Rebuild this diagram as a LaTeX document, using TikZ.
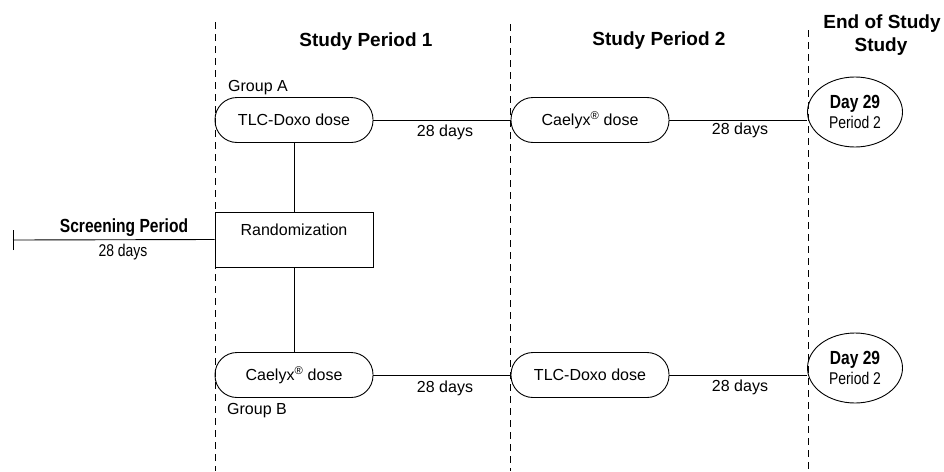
\documentclass[tikz,border=0pt]{standalone}
\usepackage{fontspec}
\setmainfont{Liberation Sans}
\newfontfamily\narrowfont[FakeStretch=0.82]{Liberation Sans}
\usetikzlibrary{shapes.geometric}
\begin{document}
\begin{tikzpicture}[x=1pt,y=-1pt,
  every node/.style={font=\fontsize{16}{19}\selectfont, inner sep=0pt},
  ln/.style={line width=0.9pt},
  dashline/.style={line width=0.9pt, dash pattern=on 7pt off 5pt},
  pill/.style={draw, line width=0.9pt, rounded corners=22pt, minimum width=158pt, minimum height=45pt},
  box/.style={draw, line width=0.9pt, minimum width=158pt, minimum height=55pt},
  endc/.style={draw, ellipse, line width=0.9pt, minimum width=95pt, minimum height=70pt, align=center},
  head/.style={font=\fontsize{19}{22}\selectfont\bfseries},
  lab/.style={font=\fontsize{16}{19}\selectfont}
]
\useasboundingbox (0,0) rectangle (944,471);

% dashed period separators
\coordinate (d1t) at (215,22); \coordinate (d1b) at (215,471);
\coordinate (d2t) at (510,24); \coordinate (d2b) at (510,471);
\coordinate (d3t) at (808,30); \coordinate (d3b) at (808,471);
\draw[dashline] (d1t) -- (d1b);
\draw[dashline] (d2t) -- (d2b);
\draw[dashline] (d3t) -- (d3b);

% headers
\node[head] (h1) at (366,42) {Study Period 1};
\node[head] (h2) at (659,41) {Study Period 2};
\node[head] (h3) at (882,24) {End of Study};
\node[head] (h4) at (881,47) {Study};

% top row
\node[pill] (a1) at (294,120) {TLC-Doxo dose};
\node[pill] (a2) at (590,120) {Caelyx\textsuperscript{®} dose};
\node[endc] (e1) at (855,112) {{\narrowfont\bfseries\fontsize{19}{22}\selectfont Day 29}\\[1pt]{\narrowfont\fontsize{17}{20}\selectfont Period 2}};
\node[lab] (ga) at (258,88) {Group A};
\node[lab] (t1) at (445,132) {28 days};
\node[lab] (t2) at (740,130) {28 days};
\draw[ln] (a1.east) -- (a2.west);
\draw[ln] (a2.east) -- (a2.east -| e1.west);

% randomization
\node[box] (r) at (294,239.5) {};
\node[lab] (rt) at (294,230) {Randomization};
\draw[ln] (a1.south) -- (r.north);

% screening
\coordinate (s0) at (13,240);
\draw[ln] (s0) -- (r.west);
\draw[ln] ([yshift=-10pt]s0) -- ([yshift=10pt]s0);
\node[font=\narrowfont\bfseries\fontsize{19}{22}\selectfont] (sp) at (124,228) {Screening Period};
\node[font=\narrowfont\fontsize{17}{20}\selectfont] (sd) at (123,252) {28 days};

% bottom row
\node[pill] (b1) at (294,375) {Caelyx\textsuperscript{®} dose};
\node[pill] (b2) at (590,375) {TLC-Doxo dose};
\node[endc] (e2) at (855,368) {{\narrowfont\bfseries\fontsize{19}{22}\selectfont Day 29}\\[1pt]{\narrowfont\fontsize{17}{20}\selectfont Period 2}};
\node[lab] (gb) at (257,411) {Group B};
\node[lab] (t3) at (445,388) {28 days};
\node[lab] (t4) at (740,387) {28 days};
\draw[ln] (r.south) -- (b1.north);
\draw[ln] (b1.east) -- (b2.west);
\draw[ln] (b2.east) -- (b2.east -| e2.west);
\end{tikzpicture}
\end{document}
